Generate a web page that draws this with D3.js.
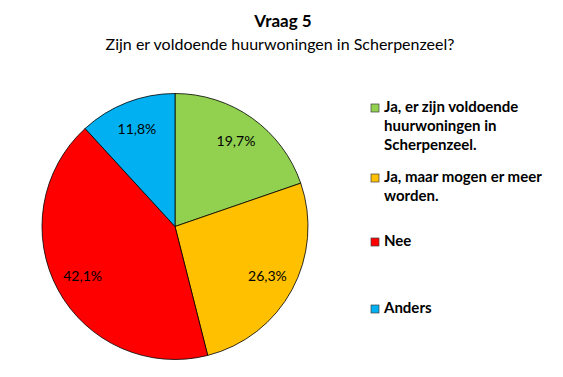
<!DOCTYPE html>
<html>
<head>
<meta charset="utf-8">
<script src="https://cdn.jsdelivr.net/npm/d3@7"></script>
<style>
  body { margin: 0; background: #fff; }
  text { font-family: Lato, "Open Sans", sans-serif; fill: #000; }
</style>
</head>
<body>
<div id="chart"></div>
<script>
// data
var categories = ["Ja, er zijn voldoende huurwoningen in Scherpenzeel.",
                  "Ja, maar mogen er meer worden.",
                  "Nee",
                  "Anders"];
var legendLines = [["Ja, er zijn voldoende", "huurwoningen in", "Scherpenzeel."],
                   ["Ja, maar mogen er meer", "worden."],
                   ["Nee"],
                   ["Anders"]];
var values = [19.7, 26.3, 42.1, 11.8];
var labels = ["19,7%", "26,3%", "42,1%", "11,8%"];
var colors = ["#92D050", "#FFC000", "#FF0000", "#00B0F0"];

var width = 563, height = 377;

var svg = d3.select("#chart").append("svg")
    .attr("width", width)
    .attr("height", height);

// titles
svg.append("text")
    .attr("x", 283).attr("y", 27)
    .attr("text-anchor", "middle")
    .style("font-weight", "bold")
    .style("font-size", "17px")
    .text("Vraag 5");
svg.append("text")
    .attr("x", 280).attr("y", 50)
    .attr("text-anchor", "middle")
    .style("font-size", "16px")
    .text("Zijn er voldoende huurwoningen in Scherpenzeel?");

// pie
var cx = 175, cy = 226.5, r = 133;
var pie = d3.pie().sort(null).value(function(d) { return d; });
var arcs = pie(values);
var arc = d3.arc().innerRadius(0).outerRadius(r);
var labelArc = d3.arc().innerRadius(105).outerRadius(105);

var g = svg.append("g")
    .attr("transform", "translate(" + cx + "," + cy + ")");

g.selectAll("path")
    .data(arcs)
  .enter().append("path")
    .attr("d", arc)
    .attr("fill", function(d, i) { return colors[i]; })
    .attr("stroke", "#000")
    .attr("stroke-width", 0.8);

g.selectAll(".lbl")
    .data(arcs)
  .enter().append("text")
    .attr("class", "lbl")
    .attr("transform", function(d) { return "translate(" + labelArc.centroid(d) + ")"; })
    .attr("text-anchor", "middle")
    .attr("dy", "0.35em")
    .style("font-size", "14px")
    .text(function(d, i) { return labels[i]; });

// legend
var legendY = [112, 182, 246, 313];
var legend = svg.append("g");
categories.forEach(function(c, i) {
  var row = legend.append("g")
      .attr("transform", "translate(371," + legendY[i] + ")");
  row.append("rect")
      .attr("x", 0).attr("y", -8)
      .attr("width", 8).attr("height", 8)
      .attr("fill", colors[i])
      .attr("stroke", "#404040")
      .attr("stroke-width", 0.7);
  legendLines[i].forEach(function(t, j) {
    row.append("text")
        .attr("x", 13).attr("y", j * 19)
        .style("font-size", "15px")
        .style("font-weight", "bold")
        .text(t);
  });
});
</script>
</body>
</html>
